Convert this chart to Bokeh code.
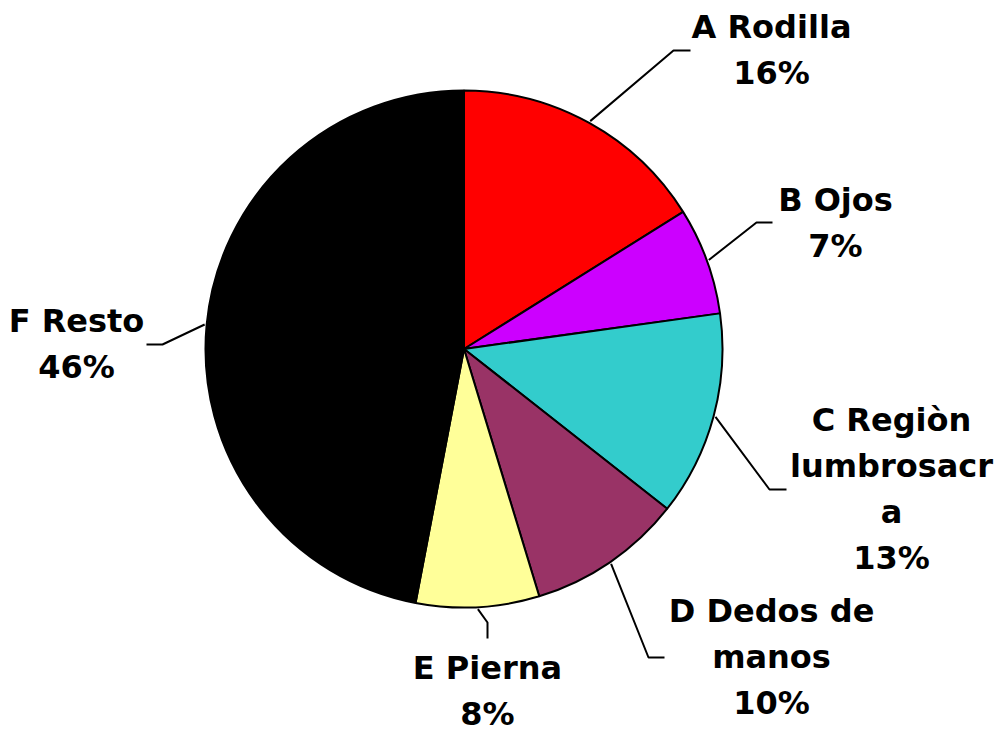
import numpy as np
from bokeh.plotting import figure
from bokeh.models import Range1d, ColumnDataSource
from bokeh.core.properties import value
from bokeh.embed import file_html
from bokeh.resources import INLINE

# ---- data ----
categories = ["A Rodilla", "B Ojos", "C Regiòn\nlumbrosacr\na", "D Dedos de\nmanos", "E Pierna", "F Resto"]
shares = [16.1, 6.7, 12.8, 9.7, 7.7, 47.0]
pct_labels = ["16%", "7%", "13%", "10%", "8%", "46%"]
colors = ["#FF0000", "#CC00FF", "#33CCCC", "#993366", "#FFFF99", "#000000"]

# ---- layout (pixel-like coordinates, y negated) ----
W, H = 999, 731
cx, cy, R = 463.5, -348.5, 258.5
label_anchor = [(771, -26), (835, -199), (891, -419), (771, -610), (487, -667), (76, -320)]
elbow = [(673, -50), (756, -222), (769, -489), (648, -657), (487, -622), (162, -344)]
tail = [(690, -50), (772, -222), (786, -489), (664, -657), (487, -638), (146, -344)]
line_gap = 46

p = figure(width=W, height=H, output_backend="svg", toolbar_location=None,
           x_range=Range1d(0, W), y_range=Range1d(-H, 0),
           min_border=0, outline_line_color=None)
p.axis.visible = False
p.grid.visible = False
p.background_fill_color = "white"
p.border_fill_color = "white"

tot = sum(shares)
frac = np.array(shares) / tot
cum = np.concatenate([[0], np.cumsum(frac)])
start = np.pi / 2 - cum[:-1] * 2 * np.pi
end = np.pi / 2 - cum[1:] * 2 * np.pi

src = ColumnDataSource(dict(start=start, end=end, color=colors))
p.wedge(x=cx, y=cy, radius=R, start_angle="start", end_angle="end", direction="clock",
        fill_color="color", line_color="black", line_width=2, source=src)

# leader lines
mid = (start + end) / 2
xs, ys = [], []
for i in range(len(shares)):
    sx = cx + (R + 2) * np.cos(mid[i])
    sy = cy + (R + 2) * np.sin(mid[i])
    xs.append([sx, elbow[i][0], tail[i][0]])
    ys.append([sy, elbow[i][1], tail[i][1]])
p.multi_line(xs=xs, ys=ys, line_color="black", line_width=2)

# labels
tx, ty, tt = [], [], []
for i, cat in enumerate(categories):
    lines = cat.split("\n") + [pct_labels[i]]
    for j, ln in enumerate(lines):
        tx.append(label_anchor[i][0])
        ty.append(label_anchor[i][1] - j * line_gap)
        tt.append(ln)
p.text(x=tx, y=ty, text=tt, text_align="center", text_baseline="alphabetic",
       text_font=value("DejaVu Sans"), text_font_style="bold", text_font_size="32px",
       text_color="black")

open("out.html", "w").write(file_html(p, INLINE))
